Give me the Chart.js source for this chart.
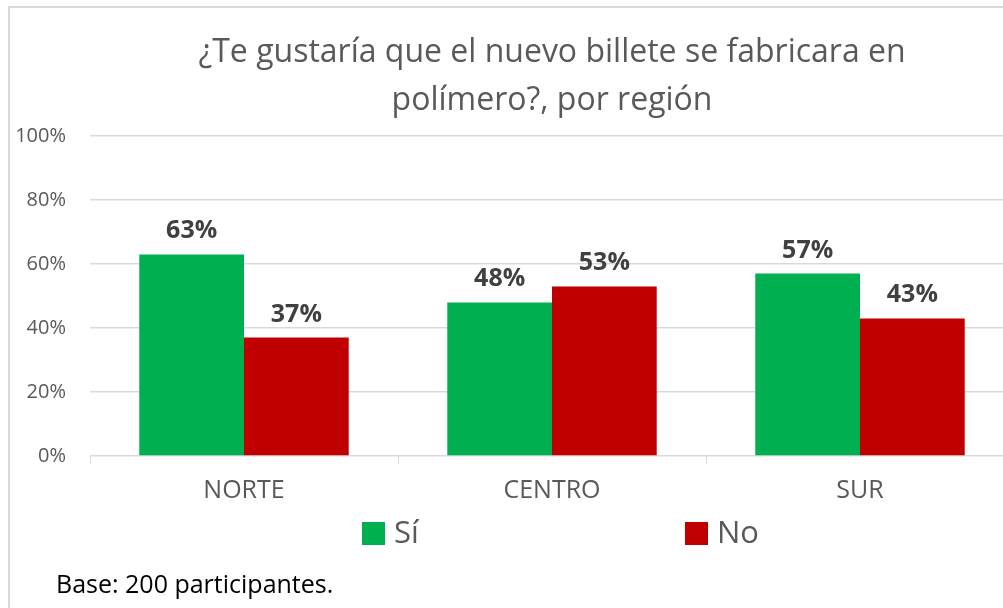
<!DOCTYPE html>
<html>
<head>
<meta charset="utf-8">
<script src="https://cdn.jsdelivr.net/npm/chart.js@4"></script>
<style>
  html, body { margin: 0; padding: 0; background: #fff; overflow: hidden; }
  #frame {
    position: absolute; left: 8px; top: 6px; width: 1100px; height: 700px;
    border-top: 2px solid #d9d9d9; border-left: 2px solid #d9d9d9;
  }
  #wrap { position: absolute; left: 0; top: 0; width: 1016px; height: 608px; }
</style>
</head>
<body>
<div id="frame"></div>
<div id="wrap"><canvas id="chart" width="1016" height="608"></canvas></div>
<script>
const titleLines = ['¿Te gustaría que el nuevo billete se fabricara en', 'polímero?, por región'];
const regions = ['NORTE', 'CENTRO', 'SUR'];
const seriesNames = ['Sí', 'No'];
const siValues = [63, 48, 57];
const noValues = [37, 53, 43];
const yTicks = [0, 20, 40, 60, 80, 100];
const footNote = 'Base: 200 participantes.';

const GREEN = '#00B050';
const RED = '#C00000';
const GREY = '#595959';
const FONT = '"Open Sans", "Noto Sans", sans-serif';

// title, value labels, legend and footnote drawn straight onto the canvas
const extras = {
    id: 'extras',
    afterDatasetsDraw(chart) {
        const ctx = chart.ctx;
        ctx.save();
        ctx.font = 'bold 25px ' + FONT;
        ctx.fillStyle = '#404040';
        ctx.textAlign = 'center';
        ctx.textBaseline = 'alphabetic';
        chart.data.datasets.forEach((ds, i) => {
            chart.getDatasetMeta(i).data.forEach((bar, j) => {
                ctx.fillText(ds.data[j] + '%', bar.x, bar.y - 16);
            });
        });
        ctx.restore();
    },
    afterDraw(chart) {
        const ctx = chart.ctx;
        const area = chart.chartArea;
        const cx = (area.left + area.right) / 2;
        ctx.save();

        // title
        ctx.font = '32px ' + FONT;
        ctx.fillStyle = GREY;
        ctx.textAlign = 'center';
        ctx.textBaseline = 'middle';
        ctx.fillText(titleLines[0], cx, 53);
        ctx.fillText(titleLines[1], cx, 101);

        // legend
        const items = [{ x: 362 }, { x: 685 }];
        ctx.font = '31px ' + FONT;
        ctx.textAlign = 'left';
        chart.data.datasets.forEach((ds, i) => {
            const x = items[i].x;
            ctx.fillStyle = ds.backgroundColor;
            ctx.fillRect(x, 522, 23, 23);
            ctx.fillStyle = GREY;
            ctx.fillText(ds.label, x + 32, 534);
        });

        // footnote
        ctx.font = '25px ' + FONT;
        ctx.fillStyle = '#000';
        ctx.textBaseline = 'alphabetic';
        ctx.fillText(footNote, 56, 593);
        ctx.restore();
    }
};

new Chart(document.getElementById('chart'), {
    type: 'bar',
    data: {
        labels: regions,
        datasets: [
            { label: seriesNames[0], data: siValues, backgroundColor: GREEN, borderWidth: 0 },
            { label: seriesNames[1], data: noValues, backgroundColor: RED, borderWidth: 0 }
        ]
    },
    options: {
        responsive: false,
        animation: false,
        devicePixelRatio: 1,
        layout: { padding: { top: 136, right: 2, left: 0, bottom: 0 } },
        datasets: { bar: { categoryPercentage: 0.68, barPercentage: 1.0 } },
        plugins: {
            legend: { display: false },
            title: { display: false },
            tooltip: { enabled: false }
        },
        scales: {
            x: {
                offset: true,
                afterFit(scale) { scale.height = 152; },
                grid: {
                    offset: true,
                    drawOnChartArea: false,
                    drawTicks: true,
                    tickLength: 8,
                    color: '#d9d9d9'
                },
                border: { display: false },
                ticks: { color: GREY, font: { size: 25, family: FONT }, padding: 12 }
            },
            y: {
                min: 0,
                max: 100,
                afterFit(scale) { scale.width = 90; },
                afterBuildTicks(scale) { scale.ticks = yTicks.map(v => ({ value: v })); },
                grid: { color: '#d9d9d9', drawTicks: false, lineWidth: 1.5 },
                border: { display: false },
                ticks: {
                    color: GREY,
                    font: { size: 20, family: FONT },
                    padding: 24,
                    callback: v => v + '%'
                }
            }
        }
    },
    plugins: [extras]
});
</script>
</body>
</html>
